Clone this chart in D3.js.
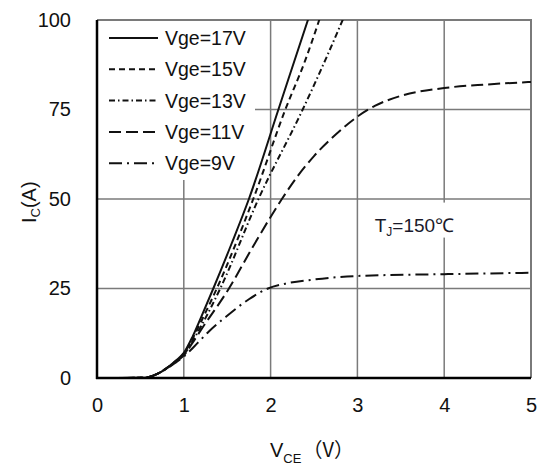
<!DOCTYPE html>
<html>
<head>
<meta charset="utf-8">
<script src="https://cdn.jsdelivr.net/npm/d3@7"></script>
<style>
  body { margin: 0; background: #fff; }
  text { font-family: "Liberation Sans", Arial, sans-serif; fill: #111; }
</style>
</head>
<body>
<svg id="svg"></svg>
<script>
let width = 540, height = 468;
let margin = { top: 20, right: 9, bottom: 90, left: 97 };

// tick values
let xTicks = [0, 1, 2, 3, 4, 5];
let yTicks = [0, 25, 50, 75, 100];

// curves: [Vce, Ic]
let vge17 = [[0,0],[0.5,0.05],[0.6,0.3],[0.7,1.2],[0.8,2.7],[0.9,4.7],[1.0,7],[1.1,11.5],[1.2,17],[1.34,25],[1.55,37.5],[1.75,50],[2.09,75],[2.43,100],[2.5,105]];
let vge15 = [[0,0],[0.5,0.05],[0.6,0.3],[0.7,1.2],[0.8,2.7],[0.9,4.6],[1.0,6.8],[1.1,11],[1.2,15.8],[1.38,25],[1.80,50],[2.17,75],[2.40,88.8],[2.56,100],[2.6,103]];
let vge13 = [[0,0],[0.5,0.05],[0.6,0.3],[0.7,1.2],[0.8,2.7],[0.9,4.5],[1.0,6.5],[1.1,10.3],[1.2,14.5],[1.42,25],[1.86,50],[2.37,75],[2.63,88.8],[2.83,100],[2.9,104]];
let vge11 = [[0,0],[0.5,0.05],[0.6,0.3],[0.7,1.2],[0.8,2.7],[0.9,4.4],[1.0,6.3],[1.1,9.8],[1.2,13.5],[1.52,25],[1.78,36],[2.0,45],[2.13,50],[2.3,56],[2.5,62],[2.75,68],[3.0,73],[3.2,76],[3.5,78.8],[4.0,81],[4.5,82],[5.0,82.7]];
let vge9  = [[0,0],[0.5,0.05],[0.6,0.3],[0.7,1.2],[0.8,2.6],[0.9,4.2],[1.0,6],[1.16,9.8],[1.28,12.8],[1.5,17.4],[1.75,22],[1.97,25],[2.2,26.5],[2.5,27.5],[3,28.5],[4,29],[5,29.4]];

let labels = ["Vge=17V", "Vge=15V", "Vge=13V", "Vge=11V", "Vge=9V"];
let dashes = [null, "6,4", "6,3,1.5,3", "12,5", "13,5,2,5"];
let series = [vge17, vge15, vge13, vge11, vge9];

let svg = d3.select("#svg").attr("width", width).attr("height", height);

let xScale = d3.scaleLinear().domain([0, 5]).range([margin.left, width - margin.right]);
let yScale = d3.scaleLinear().domain([0, 100]).range([height - margin.bottom, margin.top]);

let x0 = xScale(0), x1 = xScale(5), y0 = yScale(0), y1 = yScale(100);

// grid
let grid = svg.append("g");
grid.selectAll("line.v").data(xTicks.slice(1, -1)).join("line")
    .attr("x1", d => xScale(d)).attr("x2", d => xScale(d))
    .attr("y1", y0).attr("y2", y1)
    .attr("stroke", "#7a7a7a").attr("stroke-width", 1.5);
grid.selectAll("line.h").data(yTicks.slice(1, -1)).join("line")
    .attr("y1", d => yScale(d)).attr("y2", d => yScale(d))
    .attr("x1", x0).attr("x2", x1)
    .attr("stroke", "#7a7a7a").attr("stroke-width", 1.5);

// top and right border
svg.append("path")
    .attr("d", `M${x0},${y1}H${x1}V${y0}`)
    .attr("fill", "none").attr("stroke", "#7a7a7a").attr("stroke-width", 2);

// legend background hides the grid
svg.append("rect").attr("x", x0 + 1).attr("y", y1 + 1).attr("width", 157).attr("height", 159).attr("fill", "#fff");

// annotation box
let ann = svg.append("g").attr("transform", `translate(${xScale(3.2)},${yScale(40.9)})`);
ann.append("rect").attr("x", -4).attr("y", -29).attr("width", 92).attr("height", 35).attr("fill", "#fff");
let annText = ann.append("text").attr("font-size", 19).style("fill", "#1a1a2a");
annText.append("tspan").text("T");
annText.append("tspan").attr("font-size", 12).attr("dy", 4).text("J");
annText.append("tspan").attr("dy", -4).text("=150℃");

// curves
svg.append("clipPath").attr("id", "clip")
    .append("rect").attr("x", x0).attr("y", y1).attr("width", x1 - x0).attr("height", y0 - y1);

let line = d3.line()
    .x(d => xScale(d[0]))
    .y(d => yScale(d[1]))
    .curve(d3.curveMonotoneX);

svg.append("g").attr("clip-path", "url(#clip)")
    .selectAll("path").data(series).join("path")
    .attr("d", line)
    .attr("fill", "none")
    .attr("stroke", "#111")
    .attr("stroke-width", 2)
    .attr("stroke-dasharray", (d, i) => dashes[i]);

// legend
let legend = svg.append("g");
let rows = legend.selectAll("g").data(labels).join("g")
    .attr("transform", (d, i) => `translate(0, ${38 + i * 31.3})`);
rows.append("line")
    .attr("x1", 109).attr("x2", 158)
    .attr("stroke", "#111").attr("stroke-width", 2)
    .attr("stroke-dasharray", (d, i) => dashes[i]);
rows.append("text")
    .attr("x", 165).attr("y", 7)
    .attr("font-size", 19.5)
    .text(d => d);

// axes
let xAxis = svg.append("g").attr("transform", `translate(0, ${y0})`)
    .call(d3.axisBottom(xScale).tickValues(xTicks).tickSize(0).tickPadding(20).tickFormat(d3.format("d")));
let yAxis = svg.append("g").attr("transform", `translate(${x0}, 0)`)
    .call(d3.axisLeft(yScale).tickValues(yTicks).tickSize(0).tickPadding(26).tickFormat(d3.format("d")));

[xAxis, yAxis].forEach(a => {
    a.select(".domain").attr("stroke", "#000").attr("stroke-width", 2.5);
    a.selectAll("text").attr("font-size", 20).attr("font-family", "Liberation Sans, Arial, sans-serif").attr("fill", "#111");
});
yAxis.select(".domain").attr("d", `M0,${y0 + 1}V${y1}`);
xAxis.select(".domain").attr("d", `M${x0 - 1},0H${x1}`);

// axis titles
let xt = svg.append("text").attr("x", 270).attr("y", 457).attr("font-size", 20);
xt.append("tspan").text("V");
xt.append("tspan").attr("font-size", 13).attr("dy", 6).text("CE");
xt.append("tspan").attr("dy", -6).attr("font-family", "Noto Sans CJK SC").attr("dx", 1).text("（V）");

let yt = svg.append("text")
    .attr("transform", "translate(36, 223) rotate(-90)")
    .attr("font-size", 20);
yt.append("tspan").text("I");
yt.append("tspan").attr("font-size", 13).attr("dy", 4).text("C");
yt.append("tspan").attr("dy", -4).text("(A)");
</script>
</body>
</html>
